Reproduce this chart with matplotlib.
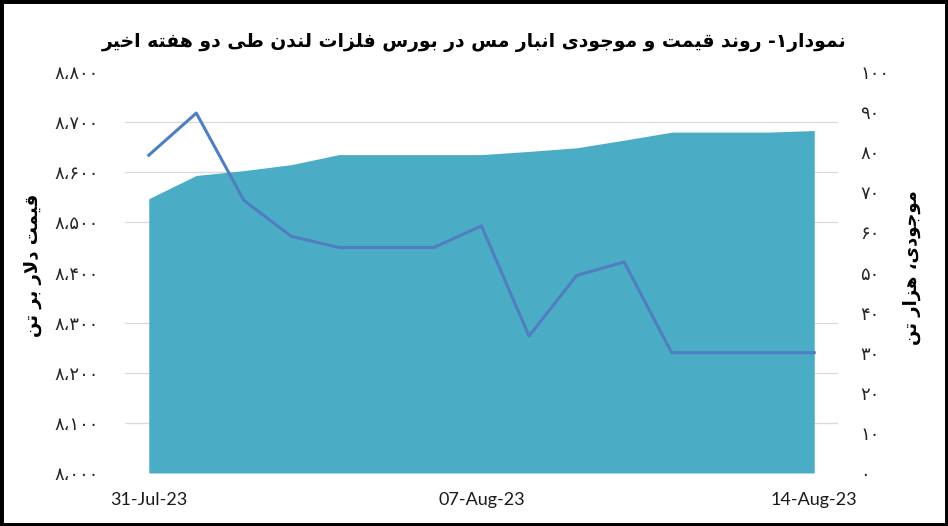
import matplotlib
matplotlib.use('Agg')
import matplotlib.pyplot as plt
from matplotlib.patches import Rectangle
import numpy as np

# daily values, 31 Jul - 14 Aug 2023 (weekends carried flat)
dates = ['31-Jul-23', '01-Aug-23', '02-Aug-23', '03-Aug-23', '04-Aug-23',
         '05-Aug-23', '06-Aug-23', '07-Aug-23', '08-Aug-23', '09-Aug-23',
         '10-Aug-23', '11-Aug-23', '12-Aug-23', '13-Aug-23', '14-Aug-23']
price = [8634, 8718, 8544, 8472, 8450, 8450, 8450, 8493, 8273, 8394,
         8421, 8240, 8240, 8240, 8240]
inventory = [68.4, 74.2, 75.4, 76.9, 79.4, 79.4, 79.4, 79.4, 80.2, 81.1,
             83.0, 85.0, 85.0, 85.0, 85.4]

x_tick_labels = ['31-Jul-23', '07-Aug-23', '14-Aug-23']
price_ticks = [8000, 8100, 8200, 8300, 8400, 8500, 8600, 8700, 8800]
price_tick_labels = ['۸،۰۰۰', '۸،۱۰۰', '۸،۲۰۰', '۸،۳۰۰', '۸،۴۰۰',
                     '۸،۵۰۰', '۸،۶۰۰', '۸،۷۰۰', '۸،۸۰۰']
inv_ticks = [0, 10, 20, 30, 40, 50, 60, 70, 80, 90, 100]
inv_tick_labels = ['۰', '۱۰', '۲۰', '۳۰', '۴۰', '۵۰', '۶۰', '۷۰', '۸۰', '۹۰', '۱۰۰']

title = 'نمودار۱- روند قیمت و موجودی انبار مس در بورس فلزات لندن طی دو هفته اخیر'
left_label = 'قیمت دلار بر تن'
right_label = 'موجودی، هزار تن'

# matplotlib has no arabic shaping: pick presentation forms by hand and reverse
FORMS = {
    'ا': ('\uFE8D', '\uFE8E', None, None),
    'ب': ('\uFE8F', '\uFE90', '\uFE91', '\uFE92'),
    'ت': ('\uFE95', '\uFE96', '\uFE97', '\uFE98'),
    'ج': ('\uFE9D', '\uFE9E', '\uFE9F', '\uFEA0'),
    'خ': ('\uFEA5', '\uFEA6', '\uFEA7', '\uFEA8'),
    'د': ('\uFEA9', '\uFEAA', None, None),
    'ر': ('\uFEAD', '\uFEAE', None, None),
    'ز': ('\uFEAF', '\uFEB0', None, None),
    'س': ('\uFEB1', '\uFEB2', '\uFEB3', '\uFEB4'),
    'ط': ('\uFEC1', '\uFEC2', '\uFEC3', '\uFEC4'),
    'ف': ('\uFED1', '\uFED2', '\uFED3', '\uFED4'),
    'ق': ('\uFED5', '\uFED6', '\uFED7', '\uFED8'),
    'ل': ('\uFEDD', '\uFEDE', '\uFEDF', '\uFEE0'),
    'م': ('\uFEE1', '\uFEE2', '\uFEE3', '\uFEE4'),
    'ن': ('\uFEE5', '\uFEE6', '\uFEE7', '\uFEE8'),
    'ه': ('\uFEE9', '\uFEEA', '\uFEEB', '\uFEEC'),
    'و': ('\uFEED', '\uFEEE', None, None),
    'ی': ('\uFBFC', '\uFBFD', '\uFBFE', '\uFBFF'),
}


def dual(c):
    return c in FORMS and FORMS[c][2] is not None


def fa(text):
    out = []
    i = 0
    n = len(text)
    while i < n:
        c = text[i]
        prev = text[i - 1] if i > 0 else ''
        con_prev = dual(prev) and c in FORMS
        if c == 'ل' and i + 1 < n and text[i + 1] == 'ا':
            out.append('\uFEFC' if con_prev else '\uFEFB')
            i += 2
            continue
        nxt = text[i + 1] if i + 1 < n else ''
        con_next = dual(c) and nxt in FORMS
        if c in FORMS:
            iso, fin, ini, med = FORMS[c]
            if con_prev and con_next:
                out.append(med)
            elif con_prev:
                out.append(fin)
            elif con_next:
                out.append(ini)
            else:
                out.append(iso)
        else:
            out.append(c)
        i += 1
    return ''.join(reversed(out))


plt.rcParams['font.family'] = ['DejaVu Sans']

fig = plt.figure(figsize=(9.48, 5.26), dpi=100)
ax_i = fig.add_axes([125 / 948, 1 - 473 / 526, (838 - 125) / 948, (473 - 72) / 526])
ax_p = ax_i.twinx()

xs = np.arange(len(dates))

# inventory area on the lower axes, gridlines follow the price ticks
ax_i.fill_between(xs, 0, inventory, color='#4BACC6', lw=0, zorder=2)
ax_i.set_ylim(inv_ticks[0], inv_ticks[-1])
ax_i.set_yticks(inv_ticks)
ax_i.set_yticklabels(inv_tick_labels)
ax_i.yaxis.tick_right()
ax_i.set_yticks(np.linspace(inv_ticks[0], inv_ticks[-1], len(price_ticks)), minor=True)
ax_i.grid(True, which='minor', axis='y', color='#D9D9D9', lw=0.9)
ax_i.set_axisbelow(True)
ax_i.tick_params(axis='y', which='both', length=0, pad=16, labelsize=13, colors='#262626')

# price line on top
ax_p.plot(xs, price, color='#4F7FC0', lw=2.2, zorder=3)
ax_p.set_ylim(price_ticks[0], price_ticks[-1])
ax_p.set_yticks(price_ticks)
ax_p.set_yticklabels(price_tick_labels)
ax_p.yaxis.tick_left()
ax_p.tick_params(axis='y', length=0, pad=19, labelsize=13, colors='#262626')
ax_p.set_zorder(ax_i.get_zorder() + 1)
ax_p.patch.set_visible(False)

ax_i.set_xlim(-0.5, len(dates) - 0.5)
ax_i.set_xticks([dates.index(d) for d in x_tick_labels])
ax_i.set_xticklabels(x_tick_labels, fontfamily='Lato', fontsize=13, color='#1a1a1a')
ax_i.tick_params(axis='x', length=0, pad=14)

for a in (ax_i, ax_p):
    for s in a.spines.values():
        s.set_visible(False)

fig.text(474 / 948, 1 - 43 / 526, fa(title), ha='center', va='center',
         fontsize=13.5, fontweight='bold', color='black')
fig.text(33 / 948, 1 - 265 / 526, fa(left_label), rotation=90, ha='center',
         va='center', fontsize=13, fontweight='bold', color='black')
fig.text(912 / 948, 1 - 268 / 526, fa(right_label), rotation=90, ha='center',
         va='center', fontsize=13, fontweight='bold', color='black')

fig.add_artist(Rectangle((0, 0), 1, 1, transform=fig.transFigure, fill=False,
                         lw=5, ec='black'))

fig.savefig('out.png', dpi=100)
